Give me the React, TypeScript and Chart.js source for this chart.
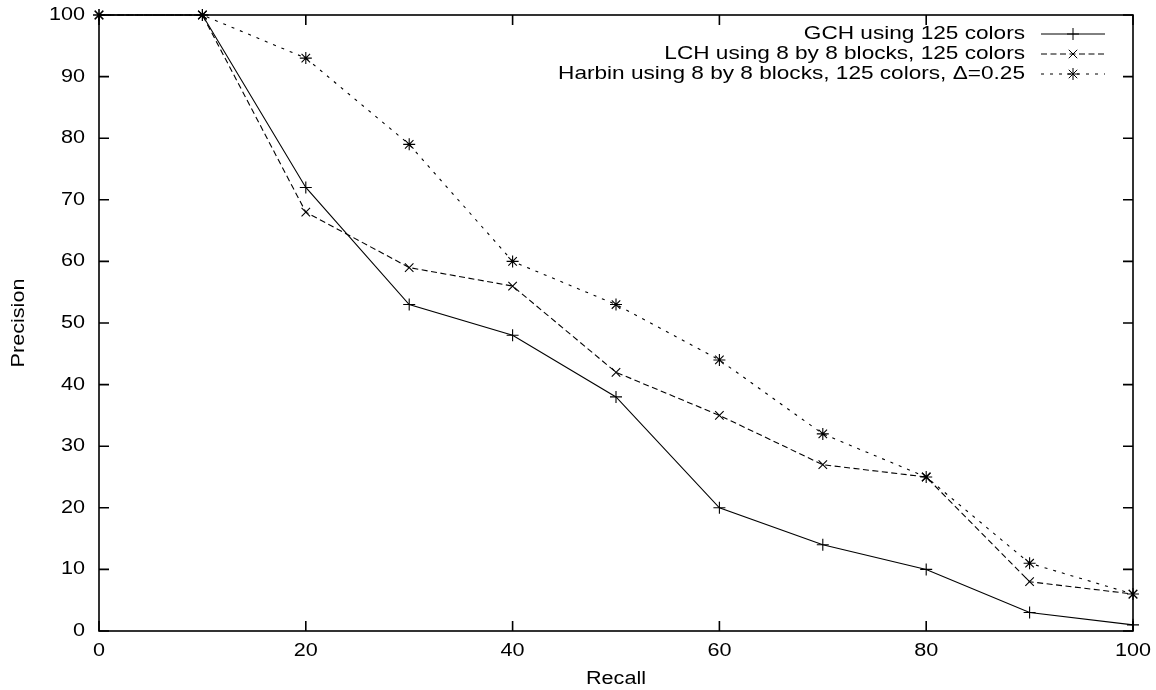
import React, { useEffect, useRef } from "react";
import { Chart, registerables } from "chart.js";

Chart.register(...registerables);

const recall = [0, 10, 20, 30, 40, 50, 60, 70, 80, 90, 100];
const gchValues = [100, 100, 72, 53, 48, 38, 20, 14, 10, 3, 1];
const lchValues = [100, 100, 68, 59, 56, 42, 35, 27, 25, 8, 6];
const harbinValues = [100, 100, 93, 79, 60, 53, 44, 32, 25, 11, 6];
const xTicks = [0, 20, 40, 60, 80, 100];
const yTicks = [0, 10, 20, 30, 40, 50, 60, 70, 80, 90, 100];
const seriesNames = [
  "GCH using 125 colors",
  "LCH using 8 by 8 blocks, 125 colors",
  "Harbin using 8 by 8 blocks, 125 colors, \u0394=0.25",
];
const xTitle = "Recall";
const yTitle = "Precision";

const FAMILY = '"Liberation Sans", Arial, Helvetica, sans-serif';
const STRETCH = 1.2;
const DASHES: number[][] = [[], [6, 3.5], [3, 6]];
const STYLES = ["cross", "crossRot", "star"];

function drawText(
  ctx: CanvasRenderingContext2D,
  text: string,
  x: number,
  y: number,
  align: CanvasTextAlign,
  rotate = 0,
  size = 18,
  stretch = STRETCH
) {
  ctx.save();
  ctx.translate(x, y);
  if (rotate) ctx.rotate(rotate);
  ctx.scale(stretch, 1);
  ctx.font = `${size}px ${FAMILY}`;
  ctx.fillStyle = "#000";
  ctx.textAlign = align;
  ctx.textBaseline = "middle";
  ctx.fillText(text, 0, 0);
  ctx.restore();
}

function drawMarker(ctx: CanvasRenderingContext2D, style: string, x: number, y: number, r: number) {
  ctx.beginPath();
  if (style === "cross" || style === "star") {
    ctx.moveTo(x - r, y);
    ctx.lineTo(x + r, y);
    ctx.moveTo(x, y - r);
    ctx.lineTo(x, y + r);
  }
  if (style === "crossRot" || style === "star") {
    const d = r * Math.SQRT1_2;
    ctx.moveTo(x - d, y - d);
    ctx.lineTo(x + d, y + d);
    ctx.moveTo(x - d, y + d);
    ctx.lineTo(x + d, y - d);
  }
  ctx.stroke();
}

const framePlugin = {
  id: "gnuFrame",
  beforeDatasetsDraw(chart: any) {
    const { ctx, chartArea: a, scales } = chart;
    const xs = scales.x;
    const ys = scales.y;
    ctx.save();
    ctx.strokeStyle = "#000";
    ctx.lineWidth = 1.6;
    ctx.setLineDash([]);
    ctx.strokeRect(a.left, a.top, a.right - a.left, a.bottom - a.top);
    const tl = 10;
    ctx.beginPath();
    yTicks.forEach((v) => {
      const py = ys.getPixelForValue(v);
      ctx.moveTo(a.left, py);
      ctx.lineTo(a.left + tl, py);
      ctx.moveTo(a.right, py);
      ctx.lineTo(a.right - tl, py);
    });
    xTicks.forEach((v) => {
      const px = xs.getPixelForValue(v);
      ctx.moveTo(px, a.bottom);
      ctx.lineTo(px, a.bottom - tl);
      ctx.moveTo(px, a.top);
      ctx.lineTo(px, a.top + tl);
    });
    ctx.stroke();
    yTicks.forEach((v) => {
      drawText(ctx, String(v), a.left - 14, ys.getPixelForValue(v), "right");
    });
    xTicks.forEach((v) => {
      drawText(ctx, String(v), xs.getPixelForValue(v), a.bottom + 20, "center");
    });
    drawText(ctx, xTitle, (a.left + a.right) / 2, a.bottom + 48, "center");
    drawText(ctx, yTitle, 19, (a.top + a.bottom) / 2, "center", -Math.PI / 2);
    ctx.restore();
  },
  afterDatasetsDraw(chart: any) {
    const { ctx } = chart;
    ctx.save();
    const textRight = 1025;
    const lineL = 1041;
    const lineR = 1105;
    const rows = [34, 54, 74];
    seriesNames.forEach((name, i) => {
      const y = rows[i];
      drawText(ctx, name, textRight, y, "right", 0, 19, 1.19);
      ctx.strokeStyle = "#000";
      ctx.lineWidth = 1;
      ctx.setLineDash(DASHES[i]);
      ctx.beginPath();
      ctx.moveTo(lineL, y);
      ctx.lineTo(lineR, y);
      ctx.stroke();
      ctx.setLineDash([]);
      drawMarker(ctx, STYLES[i], (lineL + lineR) / 2, y, 6);
    });
    ctx.restore();
  },
};

function toPoints(vals: number[]) {
  return recall.map((x, i) => ({ x, y: vals[i] }));
}

export default function App() {
  const ref = useRef<HTMLCanvasElement | null>(null);
  useEffect(() => {
    document.body.style.margin = "0";
    if (!ref.current) return;
    const all = [gchValues, lchValues, harbinValues];
    const chart = new Chart(ref.current, {
      type: "line",
      data: {
        datasets: all.map((vals, i) => ({
          label: seriesNames[i],
          data: toPoints(vals),
          borderColor: "#000",
          backgroundColor: "#000",
          borderWidth: 1.1,
          borderDash: DASHES[i],
          pointStyle: STYLES[i] as any,
          pointRadius: 6,
          pointBorderWidth: 1.1,
          pointBorderColor: "#000",
          pointHoverRadius: 6,
          tension: 0,
          fill: false,
          clip: false as any,
        })),
      },
      options: {
        animation: false,
        responsive: false,
        devicePixelRatio: 1,
        layout: { padding: { left: 99, top: 15, right: 23, bottom: 59 } },
        plugins: { legend: { display: false }, tooltip: { enabled: false } },
        events: [],
        scales: {
          x: { type: "linear", min: 0, max: 100, display: false },
          y: { type: "linear", min: 0, max: 100, display: false },
        },
      },
      plugins: [framePlugin],
    });
    return () => chart.destroy();
  }, []);
  return (
    <div style={{ position: "fixed", left: 0, top: 0, width: 1156, height: 690, background: "#fff" }}>
      <canvas ref={ref} width={1156} height={690} />
    </div>
  );
}
